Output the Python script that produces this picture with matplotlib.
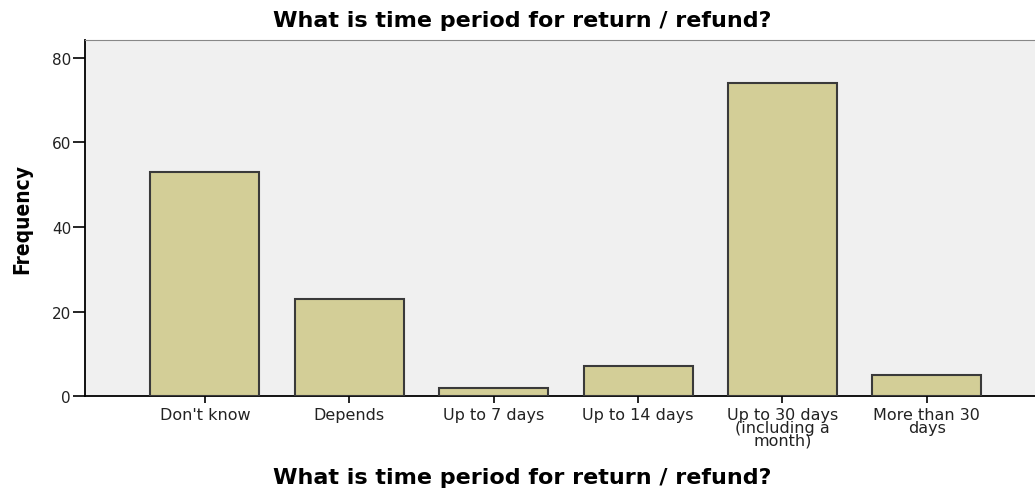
import matplotlib
matplotlib.use('Agg')
from matplotlib import pyplot as plt

# data
categories = ["Don't know", 'Depends', 'Up to 7 days', 'Up to 14 days',
              'Up to 30 days\n(including a\nmonth)', 'More than 30\ndays']
freq = [53, 23, 2, 7, 74, 5]
title = 'What is time period for return / refund?'

fig = plt.figure(figsize=(10.35, 4.89), dpi=100)
ax = fig.add_axes([0.0821, 0.188, 0.918, 0.728])
ax.set_facecolor('#f0f0f0')

x = list(range(len(categories)))
ax.bar(x, freq, width=0.755, color='#d3ce97', edgecolor='#3a3a3a', linewidth=1.5, zorder=3)

ax.set_xlim(-0.83, 5.75)
ax.set_ylim(0, 84.2)
ax.set_yticks([0, 20, 40, 60, 80])
ax.set_xticks(x)
ax.set_xticklabels(categories, fontsize=11.5, linespacing=0.82, color='#222222')
ax.tick_params(axis='y', length=9, width=1.2, labelsize=11, pad=1, labelcolor='#222222')
ax.tick_params(axis='x', length=5, width=1.2, pad=3)

ax.spines['right'].set_visible(False)
ax.spines['top'].set_color('#888888')
ax.spines['left'].set_linewidth(1.3)
ax.spines['bottom'].set_linewidth(1.3)

# SPSS centres the titles on the whole chart, not on the plot area
ax.set_title(title, fontsize=16, fontweight='bold', pad=10, x=0.46)
ax.set_xlabel(title, fontsize=16, fontweight='bold')
ax.xaxis.label.set_va('center')
ax.xaxis.set_label_coords(0.46, -0.228)
ax.set_ylabel('Frequency', fontsize=15, fontweight='bold', fontstretch='condensed',
              family=['Liberation Sans Narrow', 'DejaVu Sans'], labelpad=14)

plt.savefig('out.png', dpi=100)
